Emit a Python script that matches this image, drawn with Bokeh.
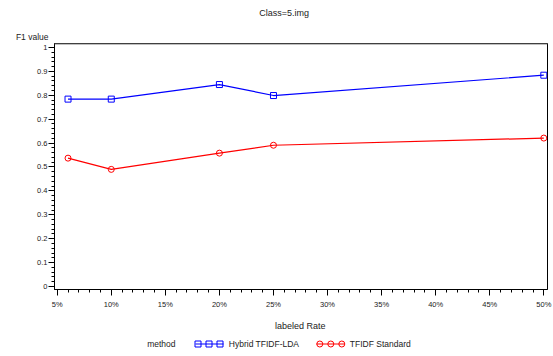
from bokeh.plotting import figure
from bokeh.layouts import column
from bokeh.models import (Range1d, FixedTicker, CustomJSTickFormatter, PrintfTickFormatter,
                          Span, LinearAxis)
from bokeh.core.properties import value
from bokeh.embed import file_html
from bokeh.resources import INLINE
import numpy as np

# ---- data ----
rates = [6, 10, 20, 25, 50]
hybrid = [0.784, 0.784, 0.845, 0.799, 0.884]
tfidf = [0.537, 0.490, 0.558, 0.591, 0.621]
series_names = ["Hybrid TFIDF-LDA", "TFIDF Standard"]
x_ticks = [5, 10, 15, 20, 25, 30, 35, 40, 45, 50]
y_ticks = [0, 0.1, 0.2, 0.3, 0.4, 0.5, 0.6, 0.7, 0.8, 0.9, 1.0]
title_text = "Class=5.img"
y_label = "F1 value"
x_label = "labeled Rate"
legend_title = "method"

FONT = value("Liberation Sans")
TXT = "#222222"
BLUE = "#0000ff"
RED = "#ff0000"
W = 553
LB, RB = 54, 6          # frame borders shared by all strips

def blank(h):
    f = figure(width=W, height=h, x_range=Range1d(LB, W - RB), y_range=Range1d(h, 0),
               x_axis_type=None, y_axis_type=None, toolbar_location=None,
               output_backend="svg", min_border_left=LB, min_border_right=RB,
               min_border_top=0, min_border_bottom=0)
    f.outline_line_color = None
    f.grid.visible = False
    return f

# ---- top strip: title and y label ----
top = blank(42)
top.text(x=[283.7], y=[12.7], text=[title_text], text_font=FONT, text_font_size="9px",
         text_align="center", text_baseline="middle", text_color=TXT)
ylab_axis = LinearAxis(ticker=FixedTicker(ticks=[36.7], minor_ticks=[]),
                       formatter=CustomJSTickFormatter(args=dict(lbl=y_label), code="return lbl;"))
ylab_axis.axis_line_color = None
ylab_axis.major_tick_line_color = None
ylab_axis.minor_tick_line_color = None
ylab_axis.major_tick_out = 0
ylab_axis.major_tick_in = 0
ylab_axis.minor_tick_out = 0
ylab_axis.minor_tick_in = 0
ylab_axis.major_label_standoff = 6
ylab_axis.major_label_text_font = "Liberation Sans"
ylab_axis.major_label_text_font_size = "8.5px"
ylab_axis.major_label_text_color = TXT
top.add_layout(ylab_axis, "left")

# ---- main plot ----
p = figure(width=W, height=271, x_range=Range1d(4.75, 50.34), y_range=Range1d(-0.01255, 1.0167),
           toolbar_location=None, output_backend="svg",
           min_border_left=LB, min_border_right=RB, min_border_top=1, min_border_bottom=24)
p.grid.visible = False
p.outline_line_color = "black"
p.outline_line_width = 1
p.add_layout(Span(location=1.0167, dimension="width", line_color="#808080", line_width=2))

p.xaxis.ticker = FixedTicker(ticks=x_ticks, minor_ticks=list(np.arange(5, 51, 1)))
p.xaxis.formatter = PrintfTickFormatter(format="%d%%")
p.yaxis.ticker = FixedTicker(ticks=y_ticks, minor_ticks=list(np.round(np.arange(0, 1.001, 0.02), 2)))
p.yaxis.formatter = CustomJSTickFormatter(code="return tick.toFixed(1).replace(/\\.0$/, '');")
for ax in (p.xaxis, p.yaxis):
    ax.major_tick_out = 6
    ax.major_tick_in = 0
    ax.minor_tick_out = 3
    ax.minor_tick_in = 0
    ax.axis_line_color = "black"
    ax.major_tick_line_color = "black"
    ax.minor_tick_line_color = "black"
    ax.major_label_text_font = "Liberation Sans"
    ax.major_label_text_font_size = "7.5px"
    ax.major_label_text_color = TXT
p.xaxis.major_label_standoff = 4
p.yaxis.major_label_standoff = 1

p.line(rates, hybrid, line_color=BLUE, line_width=1.2)
p.scatter(rates, hybrid, marker="square", size=6, line_color=BLUE, fill_color=None, line_width=1)
p.line(rates, tfidf, line_color=RED, line_width=1.2)
p.scatter(rates, tfidf, marker="circle", size=6, line_color=RED, fill_color=None, line_width=1)

# ---- bottom strip: x label and legend ----
bot = blank(43)
bot.text(x=[299.7], y=[12], text=[x_label], text_font=FONT, text_font_size="9px",
         text_align="center", text_baseline="middle", text_color=TXT)
bot.text(x=[146.7], y=[30.5], text=[legend_title], text_font=FONT, text_font_size="8.5px",
         text_align="left", text_baseline="middle", text_color=TXT)
# legend item 1
bot.line([195, 223], [30.5, 30.5], line_color=BLUE, line_width=1.2)
bot.scatter([197.5, 208.5, 219.5], [30.5, 30.5, 30.5], marker="square", size=6,
            line_color=BLUE, fill_color=None)
bot.text(x=[228.3], y=[30.5], text=[series_names[0]], text_font=FONT, text_font_size="8.5px",
         text_align="left", text_baseline="middle", text_color=TXT)
# legend item 2
bot.line([316, 344], [30.5, 30.5], line_color=RED, line_width=1.2)
bot.scatter([319.3, 330.3, 341.3], [30.5, 30.5, 30.5], marker="circle", size=6,
            line_color=RED, fill_color=None)
bot.text(x=[349.3], y=[30.5], text=[series_names[1]], text_font=FONT, text_font_size="8.5px",
         text_align="left", text_baseline="middle", text_color=TXT)

layout = column(top, p, bot, spacing=0)
open("out.html", "w").write(file_html(layout, INLINE))
